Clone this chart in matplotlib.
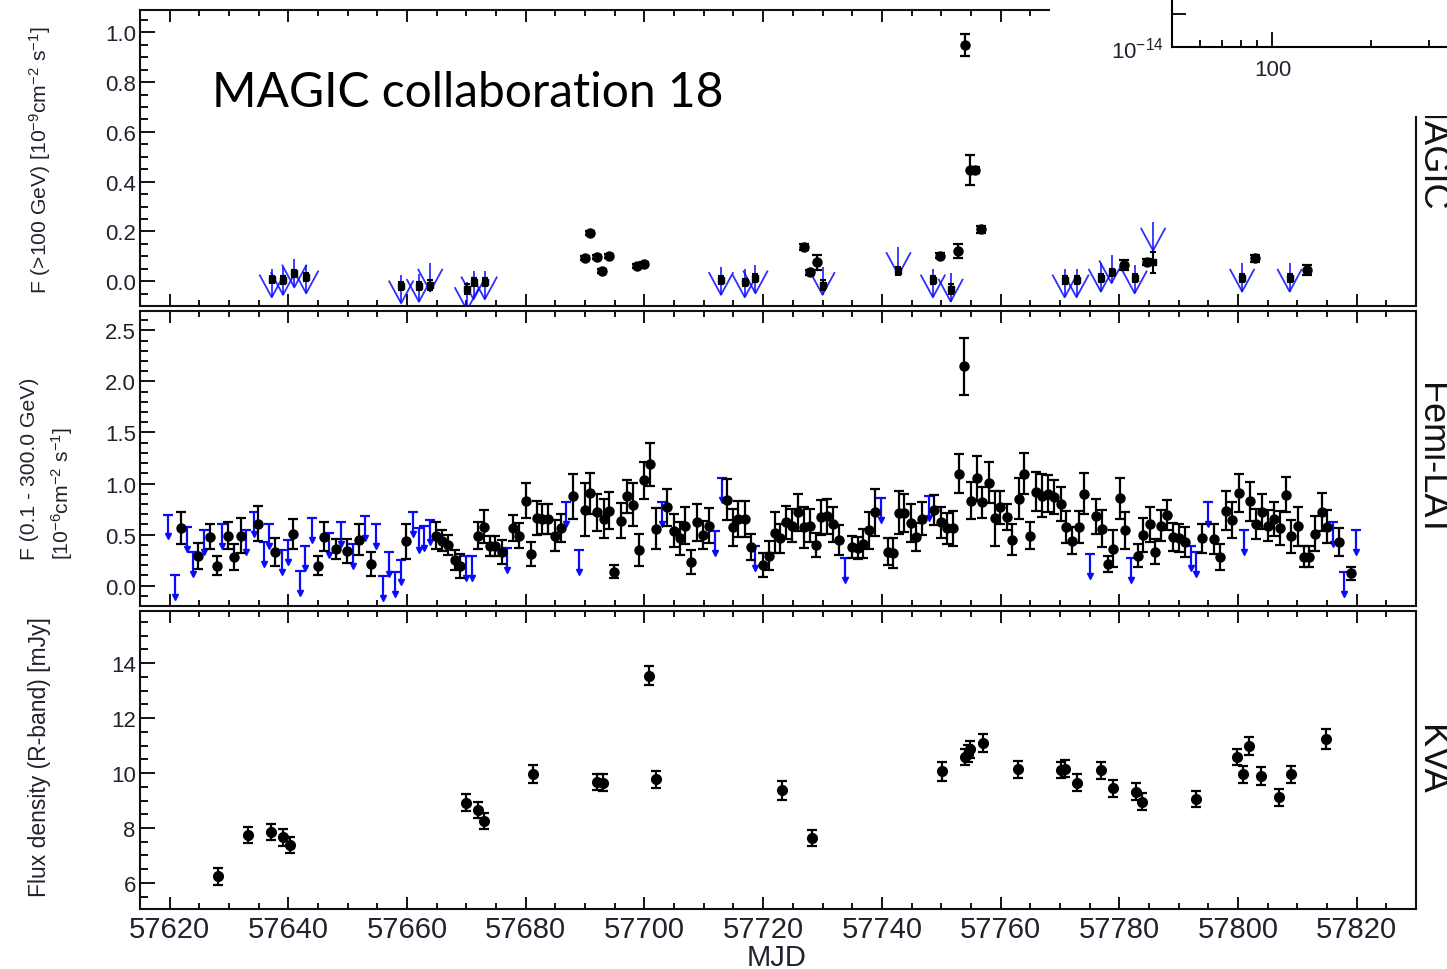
import numpy as np
import matplotlib
matplotlib.use("Agg")
import matplotlib.pyplot as plt
from matplotlib import font_manager
from matplotlib.patches import Rectangle
from matplotlib.ticker import MultipleLocator, FixedLocator, NullLocator, NullFormatter, FormatStrFormatter

# ---------------- data ----------------
# MAGIC > 100 GeV, detections
magic_mjd = [57690.0, 57690.9, 57692.0, 57692.8, 57694.0, 57698.7, 57699.9,
             57726.8, 57727.9, 57729.0, 57749.8, 57752.9, 57754.0, 57754.8,
             57755.7, 57756.7, 57780.8, 57784.6, 57802.8, 57811.7]
magic_flux = [0.094, 0.194, 0.098, 0.040, 0.100, 0.060, 0.068,
              0.138, 0.035, 0.075, 0.102, 0.122, 0.949, 0.446,
              0.446, 0.208, 0.064, 0.075, 0.091, 0.044]
magic_err = [0.008, 0.008, 0.008, 0.008, 0.008, 0.008, 0.008,
             0.012, 0.010, 0.030, 0.010, 0.029, 0.043, 0.060,
             0.012, 0.015, 0.020, 0.012, 0.015, 0.020]
# MAGIC upper limits: UL value and the flux point drawn beneath
magic_ul_mjd = [57637.2, 57639.1, 57641.0, 57643.0, 57659.0, 57662.0, 57663.9,
                57670.1, 57671.2, 57673.1, 57712.9, 57716.9, 57718.7, 57730.0,
                57742.8, 57748.6, 57751.6, 57770.8, 57772.8, 57776.9, 57778.7,
                57782.6, 57785.7, 57800.7, 57808.7]
magic_ul = [0.048, 0.058, 0.088, 0.064, 0.024, 0.030, 0.071,
            -0.003, 0.040, 0.040, 0.058, 0.048, 0.064, 0.058,
            0.138, 0.048, 0.031, 0.048, 0.048, 0.071, 0.105,
            0.064, 0.236, 0.071, 0.071]
magic_ul_pt = [0.007, 0.004, 0.031, 0.017, -0.019, -0.019, -0.016,
               -0.030, -0.003, -0.003, 0.004, -0.005, 0.013, -0.016,
               0.040, 0.004, -0.032, 0.004, 0.004, 0.013, 0.035,
               0.013, 0.075, 0.013, 0.013]
magic_ul_pt_err = [0.015, 0.015, 0.015, 0.015, 0.015, 0.015, 0.020,
                   0.020, 0.015, 0.015, 0.015, 0.015, 0.015, 0.020,
                   0.015, 0.015, 0.020, 0.015, 0.015, 0.015, 0.015,
                   0.015, 0.044, 0.015, 0.015]

# Fermi-LAT 0.1-300 GeV, detections
fermi_mjd = [57621.9, 57624.8, 57626.8, 57627.9, 57629.9, 57630.9, 57632.0, 57634.8,
             57637.8, 57640.8, 57645.0, 57646.0, 57648.0, 57649.9, 57651.9, 57654.0,
             57659.9, 57664.8, 57665.9, 57666.9, 57668.0, 57669.0,
             57672.0, 57672.9, 57673.9, 57674.8, 57676.0, 57677.9, 57678.9, 57680.0,
             57680.8, 57681.9, 57682.8, 57683.8, 57684.9, 57685.9, 57688.0, 57690.0,
             57690.9, 57692.0, 57693.1, 57694.0, 57694.9, 57696.0, 57697.0, 57698.0,
             57699.0, 57699.9, 57700.9, 57702.0, 57703.8, 57704.9, 57706.0, 57706.9,
             57707.9, 57708.9, 57709.9, 57710.9, 57713.95, 57714.9, 57715.8, 57716.9,
             57718.0, 57720.0, 57721.0, 57722.0, 57722.9, 57723.9,
             57724.9, 57725.9, 57726.8, 57727.9, 57728.9, 57729.8, 57730.8, 57731.8,
             57732.8, 57734.9, 57735.9, 57736.9, 57737.9, 57738.9, 57741.0, 57741.9,
             57742.9, 57743.8, 57744.9, 57745.8, 57746.8, 57748.8, 57750.0, 57751.0,
             57752.0, 57753.0, 57753.9, 57755.0, 57756.0, 57756.9, 57758.0, 57759.0,
             57759.9, 57761.1, 57762.0, 57763.05, 57764.0, 57765.0, 57766.0, 57766.9,
             57768.0, 57769.0, 57770.1, 57771.1, 57772.1, 57773.2, 57774.1, 57776.0,
             57777.1, 57778.1,
             57779.0, 57780.1, 57781.0, 57783.1, 57784.0, 57785.1, 57786.0, 57787.0,
             57788.0, 57789.0, 57790.0, 57791.1, 57794.0, 57796.0, 57797.0, 57798.0,
             57799.0, 57800.1, 57802.1, 57803.0, 57804.0, 57805.1, 57806.1, 57807.1,
             57808.1, 57809.0, 57810.1, 57811.1, 57812.0, 57813.0, 57814.1, 57815.0,
             57817.1, 57819.0]
fermi_flux = [0.565, 0.294, 0.48, 0.196, 0.49, 0.278, 0.49, 0.605,
              0.327, 0.506, 0.196, 0.48, 0.36, 0.337, 0.45, 0.212,
              0.435, 0.49, 0.44, 0.40, 0.25, 0.19,
              0.49, 0.578, 0.386, 0.386, 0.327, 0.565, 0.49, 0.833,
              0.31, 0.66, 0.654, 0.654, 0.49, 0.565, 0.873, 0.742,
              0.905, 0.719, 0.654, 0.735, 0.137, 0.637, 0.873, 0.794,
              0.35, 1.03, 1.19, 0.556, 0.768, 0.539, 0.464, 0.588,
              0.229, 0.62, 0.497, 0.588, 0.843, 0.572, 0.654, 0.654,
              0.376, 0.20, 0.294, 0.52, 0.464, 0.62,
              0.588, 0.719, 0.572, 0.588, 0.399, 0.67, 0.68, 0.60,
              0.448, 0.376, 0.366, 0.41, 0.54, 0.72, 0.333, 0.32,
              0.712, 0.712, 0.614, 0.474, 0.654, 0.742, 0.62, 0.56,
              0.56, 1.095, 2.15, 0.833, 1.05, 0.817, 1.007, 0.66,
              0.768, 0.67, 0.45, 0.85, 1.095, 0.49, 0.92, 0.88,
              0.90, 0.866, 0.80, 0.572, 0.44, 0.572, 0.90, 0.68,
              0.556, 0.212,
              0.36, 0.856, 0.54, 0.294, 0.497, 0.60, 0.333, 0.588,
              0.693, 0.474, 0.467, 0.425, 0.464, 0.457, 0.278, 0.735,
              0.644, 0.908, 0.827, 0.605, 0.725, 0.588, 0.654, 0.565,
              0.889, 0.484, 0.582, 0.284, 0.284, 0.507, 0.72, 0.578,
              0.425, 0.121]
fermi_err = [0.155, 0.127, 0.12, 0.095, 0.13, 0.13, 0.17, 0.17,
             0.14, 0.15, 0.095, 0.14, 0.10, 0.115, 0.15, 0.115,
             0.17, 0.13, 0.105, 0.10, 0.10, 0.12,
             0.13, 0.16, 0.10, 0.10, 0.12, 0.13, 0.125, 0.175,
             0.115, 0.165, 0.15, 0.15, 0.15, 0.14, 0.22, 0.26,
             0.20, 0.18, 0.19, 0.18, 0.06, 0.17, 0.16, 0.21,
             0.155, 0.185, 0.21, 0.20, 0.18, 0.16, 0.16, 0.18,
             0.115, 0.18, 0.14, 0.17, 0.20, 0.18, 0.175, 0.175,
             0.13, 0.115, 0.14, 0.20, 0.14, 0.16,
             0.16, 0.18, 0.20, 0.16, 0.12, 0.17, 0.17, 0.17,
             0.15, 0.11, 0.11, 0.14, 0.18, 0.23, 0.13, 0.15,
             0.21, 0.19, 0.19, 0.135, 0.16, 0.15, 0.15, 0.155,
             0.17, 0.19, 0.28, 0.185, 0.22, 0.15, 0.20, 0.27,
             0.16, 0.13, 0.15, 0.20, 0.20, 0.135, 0.19, 0.21,
             0.18, 0.165, 0.165, 0.155, 0.13, 0.155, 0.20, 0.17,
             0.18, 0.08,
             0.18, 0.20, 0.18, 0.11, 0.165, 0.17, 0.12, 0.15,
             0.15, 0.14, 0.14, 0.145, 0.14, 0.15, 0.125, 0.19,
             0.175, 0.19, 0.19, 0.15, 0.17, 0.15, 0.165, 0.17,
             0.17, 0.16, 0.19, 0.105, 0.105, 0.17, 0.185, 0.16,
             0.14, 0.065]
# Fermi-LAT upper limits
fermi_ul_mjd = [57619.8, 57620.9, 57623.0, 57624.0, 57625.8, 57628.9, 57632.9, 57634.2,
                57635.9, 57636.8, 57639.0, 57639.9, 57641.9, 57642.8, 57643.9, 57646.8,
                57648.8, 57650.9, 57652.9, 57654.8, 57655.9, 57656.9, 57657.9, 57659.0,
                57661.0, 57662.0, 57662.8, 57663.8, 57669.9, 57670.9, 57676.9, 57686.8,
                57689.0, 57702.9, 57711.9, 57713.0, 57718.7, 57733.8, 57739.8, 57747.9,
                57775.0, 57782.0, 57792.1, 57793.0, 57794.9, 57801.0, 57816.0, 57817.9,
                57819.9]
fermi_ul = [0.696, 0.108, 0.578, 0.327, 0.546, 0.605, 0.546, 0.719,
            0.425, 0.605, 0.35, 0.448, 0.147, 0.386, 0.66, 0.516,
            0.62, 0.41, 0.68, 0.60, 0.098, 0.327, 0.13, 0.25,
            0.725, 0.56, 0.58, 0.64, 0.288, 0.288, 0.369, 0.82,
            0.35, 0.82, 0.53, 1.05, 0.39, 0.271, 0.86, 0.876,
            0.31, 0.268, 0.386, 0.327, 0.82, 0.546, 0.62, 0.131,
            0.546]

# KVA optical R-band
kva_mjd = [57628.1, 57633.2, 57637.1, 57639.1, 57640.2, 57670.0, 57672.0, 57673.0,
           57681.2, 57692.0, 57693.0, 57700.8, 57701.9, 57723.1, 57728.2, 57750.2,
           57754.0, 57754.5, 57754.9, 57757.0, 57762.9, 57770.1, 57770.9, 57772.8,
           57777.0, 57778.9, 57782.8, 57783.8, 57792.9, 57799.9, 57800.9, 57801.9,
           57803.9, 57806.9, 57808.9, 57814.8]
kva_flux = [6.24, 7.74, 7.86, 7.66, 7.38, 8.92, 8.66, 8.26,
            9.98, 9.67, 9.65, 13.54, 9.77, 9.37, 7.63, 10.07,
            10.59, 10.71, 10.86, 11.10, 10.13, 10.11, 10.16, 9.65,
            10.10, 9.44, 9.32, 8.96, 9.05, 10.59, 9.95, 10.98,
            9.89, 9.11, 9.95, 11.24]
kva_err = [0.30, 0.30, 0.30, 0.30, 0.30, 0.30, 0.30, 0.30,
           0.33, 0.30, 0.30, 0.35, 0.32, 0.35, 0.30, 0.35,
           0.30, 0.30, 0.30, 0.33, 0.30, 0.30, 0.32, 0.30,
           0.32, 0.30, 0.30, 0.32, 0.28, 0.30, 0.32, 0.32,
           0.32, 0.32, 0.32, 0.35]

# ---------------- style ----------------
names = {f.name for f in font_manager.fontManager.ttflist}
sans = 'Liberation Sans' if 'Liberation Sans' in names else 'DejaVu Sans'
plt.rcParams['font.family'] = [sans, 'DejaVu Sans']
plt.rcParams['mathtext.fontset'] = 'custom'
plt.rcParams['mathtext.rm'] = sans
plt.rcParams['mathtext.it'] = sans + ':italic'
plt.rcParams['mathtext.default'] = 'regular'

W, H = 1447, 970
lab_col = '#20222e'
blue = '#0a0aff'

fig = plt.figure(figsize=(W / 100, H / 100), dpi=100)
left, right = 140 / W, 1416 / W


def panel(top_px, bot_px):
    return fig.add_axes([left, 1 - bot_px / H, right - left, (bot_px - top_px) / H])


ax1 = panel(11, 307)
ax2 = panel(312, 607)
ax3 = panel(612, 910)


def style(ax, ymaj, ymin, ylim, fmt):
    ax.set_xlim(57615, 57830)
    ax.set_ylim(*ylim)
    ax.xaxis.set_major_locator(MultipleLocator(20))
    ax.xaxis.set_minor_locator(MultipleLocator(5))
    ax.yaxis.set_major_locator(MultipleLocator(ymaj))
    ax.yaxis.set_minor_locator(MultipleLocator(ymin))
    ax.yaxis.set_major_formatter(FormatStrFormatter(fmt))
    ax.tick_params(axis='x', which='both', direction='in', top=True, bottom=True,
                   width=1.3, labelbottom=False)
    ax.tick_params(axis='x', which='major', length=8.5)
    ax.tick_params(axis='x', which='minor', length=4)
    ax.tick_params(axis='y', which='both', direction='in', left=True, right=False,
                   width=1.3, labelsize=16, labelcolor=lab_col, pad=3)
    ax.tick_params(axis='y', which='major', length=10.5)
    ax.tick_params(axis='y', which='minor', length=5.5)
    for sp in ax.spines.values():
        sp.set_linewidth(1.5)
        sp.set_color('#111111')


style(ax1, 0.2, 0.05, (-0.1, 1.09), '%.1f')
style(ax2, 0.5, 0.1, (-0.2, 2.69), '%.1f')
style(ax3, 2, 0.5, (5.05, 15.9), '%d')
ax3.tick_params(axis='x', labelbottom=True, labelsize=21, labelcolor=lab_col, pad=4)

eb = dict(fmt='o', color='black', ms=6.5, elinewidth=1.6, capsize=3.3, capthick=1.6)

# ---- MAGIC panel ----
ul_x = np.array(magic_ul_mjd)
ul_v = np.array(magic_ul)
tip = ul_v - 0.113
ax1.vlines(ul_x, tip, ul_v, color=blue, lw=1.3, alpha=0.85)
for x, t in zip(ul_x, tip):
    ax1.plot([x - 2.0, x, x + 2.0], [t + 0.088, t, t + 0.088], color=blue, lw=1.3, alpha=0.85)
ax1.errorbar(magic_ul_mjd, magic_ul_pt, yerr=magic_ul_pt_err, fmt='s', color='black',
             ms=4.5, elinewidth=1.5, capsize=2.5, capthick=1.5)
ax1.errorbar(magic_mjd, magic_flux, yerr=magic_err, **eb)

# ---- Fermi panel ----
fx = np.array(fermi_ul_mjd)
fu = np.array(fermi_ul)
ax2.vlines(fx, fu - 0.22, fu, color=blue, lw=1.6)
ax2.plot(fx, fu, ls='none', marker='_', ms=6.6, mew=1.6, color=blue)
ax2.plot(fx, fu - 0.215, ls='none', marker='v', ms=4.5, color=blue)
ax2.errorbar(fermi_mjd, fermi_flux, yerr=fermi_err, **eb)

# ---- KVA panel ----
ax3.errorbar(kva_mjd, kva_flux, yerr=kva_err, fmt='o', color='black', ms=7,
             elinewidth=1.6, capsize=3.3, capthick=1.6)

# ---- axis titles ----
fig.text(40 / W, 1 - 160 / H, r'F (>100 GeV) [10$^{-9}$cm$^{-2}$ s$^{-1}$]',
         rotation=90, ha='center', va='center', fontsize=15.2, color=lab_col)
fig.text(30 / W, 1 - 560 / H, 'F (0.1 - 300.0 GeV)',
         rotation=90, ha='center', va='bottom', fontsize=15.2, color=lab_col)
fig.text(62 / W, 1 - 560 / H, r'[10$^{-6}$cm$^{-2}$ s$^{-1}$]',
         rotation=90, ha='center', va='bottom', fontsize=15.2, color=lab_col)
fig.text(40 / W, 1 - 757 / H, 'Flux density (R-band) [mJy]',
         rotation=90, ha='center', va='center', fontsize=16.5, color=lab_col)
fig.text(777 / W, 1 - 958 / H, 'MJD', ha='center', va='center', fontsize=21, color=lab_col)

for lbl, yc in [('MAGIC', 152), ('Femi-LAT', 461), ('KVA', 760)]:
    fig.text(1413 / W, 1 - yc / H, lbl, rotation=270, ha='left', va='center',
             fontsize=26, color='#111111')

fig.text(212 / W, 1 - 107 / H, 'MAGIC collaboration 18', ha='left', va='baseline',
         fontsize=34.6, family=['Lato', 'DejaVu Sans'], color='black')

# ---- corner of a neighbouring plot (cropped in the original) ----
fig.add_artist(Rectangle((1050 / W, 1 - 117 / H), 1, 1, transform=fig.transFigure,
                         facecolor='white', edgecolor='none', zorder=5))
ins = fig.add_axes([1171.7 / W, 1 - 48 / H, 420 / W, 148 / H], zorder=10)
ins.set_xscale('log')
ins.set_yscale('log')
ins.set_xlim(49.2, 946)
ins.set_ylim(1e-14, 10 ** (-14 + 148 / 33))
ins.xaxis.set_major_locator(FixedLocator([100]))
ins.set_xticklabels(['100'])
ins.xaxis.set_minor_locator(FixedLocator([60, 70, 80, 90, 200, 300, 400, 500]))
ins.xaxis.set_minor_formatter(NullFormatter())
ins.yaxis.set_major_locator(FixedLocator([1e-14, 1e-13]))
ins.set_yticklabels([r'10$^{-14}$', ''])
ins.yaxis.set_minor_locator(NullLocator())
ins.tick_params(which='both', direction='in', width=1.3, labelsize=16, labelcolor=lab_col)
ins.tick_params(axis='x', which='major', length=10.5, pad=9)
ins.tick_params(axis='x', which='minor', length=5)
ins.tick_params(axis='y', which='major', length=10, pad=6)
for sp in ('top', 'right'):
    ins.spines[sp].set_visible(False)
for sp in ('left', 'bottom'):
    ins.spines[sp].set_linewidth(1.5)

fig.savefig('out.png', dpi=100)
